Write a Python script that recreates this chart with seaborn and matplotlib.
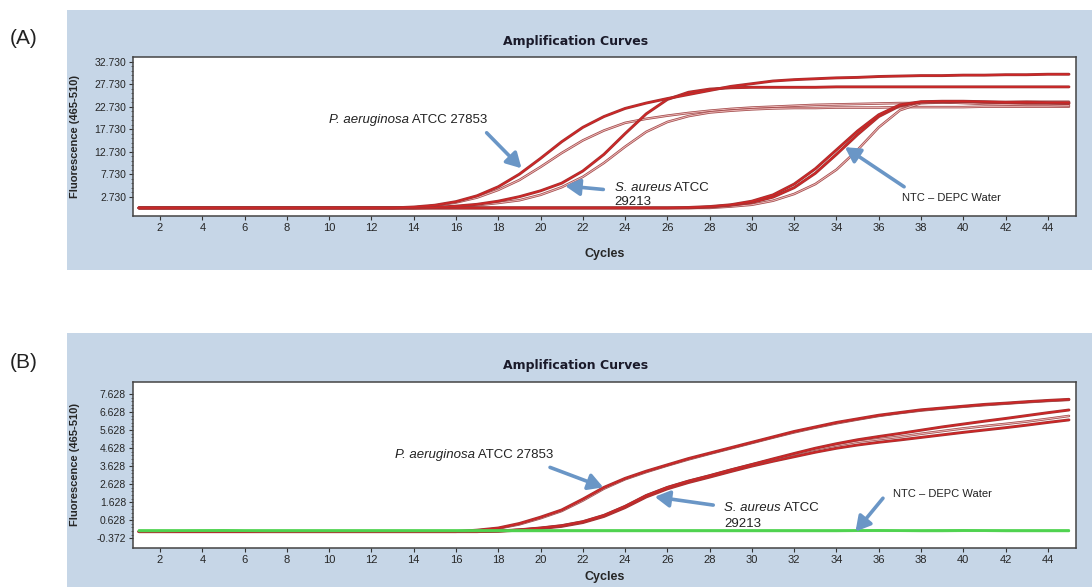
import matplotlib
matplotlib.use('Agg')
import matplotlib.pyplot as plt
import matplotlib.patheffects as pe
from matplotlib.patches import Rectangle
import seaborn as sns

# ---- data (fluorescence per cycle) ----
cycles = list(range(1, 46))

# panel A
a_pa_1 = [0.3, 0.3, 0.3, 0.3, 0.3, 0.3, 0.3, 0.3, 0.3, 0.3, 0.3, 0.3, 0.3,
          0.5, 0.9, 1.7, 3.0, 5.0, 7.8, 11.3, 15.0, 18.2, 20.6, 22.4, 23.6, 24.6,
          25.5, 26.4, 27.3, 27.9, 28.5, 28.8, 29.0, 29.2, 29.3, 29.5, 29.6, 29.7,
          29.7, 29.8, 29.8, 29.9, 29.9, 30.0, 30.0]
a_pa_2 = [0.3, 0.3, 0.3, 0.3, 0.3, 0.3, 0.3, 0.3, 0.3, 0.3, 0.3, 0.3, 0.3,
          0.4, 0.8, 1.5, 2.6, 4.3, 6.5, 9.4, 12.5, 15.3, 17.5, 19.2, 20.1, 20.8,
          21.4, 21.9, 22.3, 22.6, 22.8, 23.0, 23.2, 23.3, 23.4, 23.5, 23.6, 23.6,
          23.7, 23.7, 23.8, 23.8, 23.9, 23.9, 23.9]
a_sa_1 = [0.3, 0.3, 0.3, 0.3, 0.3, 0.3, 0.3, 0.3, 0.3, 0.3, 0.3, 0.3, 0.3, 0.3,
          0.4, 0.7, 1.1, 1.8, 2.8, 4.1, 5.8, 8.5, 12.2, 16.8, 21.2, 24.4, 26.0,
          26.7, 27.0, 27.1, 27.1, 27.1, 27.1, 27.2, 27.2, 27.2, 27.2, 27.2, 27.2,
          27.2, 27.2, 27.2, 27.2, 27.2, 27.2]
a_sa_2 = [0.3, 0.3, 0.3, 0.3, 0.3, 0.3, 0.3, 0.3, 0.3, 0.3, 0.3, 0.3, 0.3, 0.3,
          0.4, 0.6, 0.9, 1.4, 2.0, 3.2, 4.9, 7.2, 10.3, 13.9, 17.2, 19.4, 20.7,
          21.5, 21.9, 22.2, 22.4, 22.5, 22.5, 22.6, 22.6, 22.6, 22.7, 22.7, 22.7,
          22.7, 22.8, 22.8, 22.8, 22.8, 22.8]
a_ntc_1 = [0.3, 0.3, 0.3, 0.3, 0.3, 0.3, 0.3, 0.3, 0.3, 0.3, 0.3, 0.3, 0.3,
           0.3, 0.3, 0.3, 0.3, 0.3, 0.3, 0.3, 0.3, 0.3, 0.3, 0.3, 0.3, 0.3,
           0.4, 0.6, 1.0, 1.8, 3.2, 5.6, 9.0, 13.2, 17.4, 21.0, 23.2, 23.9, 24.0,
           24.0, 23.9, 23.8, 23.8, 23.7, 23.7]
a_ntc_2 = [0.3, 0.3, 0.3, 0.3, 0.3, 0.3, 0.3, 0.3, 0.3, 0.3, 0.3, 0.3, 0.3,
           0.3, 0.3, 0.3, 0.3, 0.3, 0.3, 0.3, 0.3, 0.3, 0.3, 0.3, 0.3, 0.3, 0.3,
           0.5, 0.9, 1.5, 2.7, 4.8, 8.0, 12.2, 16.6, 20.6, 23.0, 23.8, 23.9,
           23.9, 23.8, 23.7, 23.6, 23.6, 23.5]
a_ntc_3 = [0.3, 0.3, 0.3, 0.3, 0.3, 0.3, 0.3, 0.3, 0.3, 0.3, 0.3, 0.3, 0.3,
           0.3, 0.3, 0.3, 0.3, 0.3, 0.3, 0.3, 0.3, 0.3, 0.3, 0.3, 0.3, 0.3, 0.3, 0.3,
           0.6, 1.0, 1.9, 3.4, 5.6, 8.8, 13.2, 18.2, 22.0, 23.6, 23.8, 23.6,
           23.4, 23.3, 23.2, 23.2, 23.1]

# panel B
b_pa_1 = [0.0, 0.0, 0.0, 0.0, 0.0, 0.0, 0.0, 0.0, 0.0, 0.0, 0.0, 0.0, 0.0, 0.0, 0.0, 0.0,
          0.08, 0.2, 0.45, 0.8, 1.2, 1.8, 2.45, 2.95, 3.35, 3.7, 4.05, 4.35, 4.65,
          4.95, 5.25, 5.55, 5.8, 6.05, 6.25, 6.45, 6.6, 6.75, 6.85, 6.95, 7.05,
          7.12, 7.2, 7.27, 7.33]
b_pa_2 = [0.0, 0.0, 0.0, 0.0, 0.0, 0.0, 0.0, 0.0, 0.0, 0.0, 0.0, 0.0, 0.0, 0.0, 0.0, 0.0,
          0.06, 0.17, 0.4, 0.74, 1.14, 1.72, 2.38, 2.9, 3.3, 3.66, 4.0, 4.31, 4.61,
          4.91, 5.21, 5.5, 5.76, 6.0, 6.21, 6.41, 6.57, 6.71, 6.82, 6.92, 7.01,
          7.09, 7.17, 7.24, 7.3]
b_sa_1 = [0.0, 0.0, 0.0, 0.0, 0.0, 0.0, 0.0, 0.0, 0.0, 0.0, 0.0, 0.0, 0.0, 0.0, 0.0, 0.0, 0.0,
          0.03, 0.1, 0.2, 0.33, 0.55, 0.9, 1.4, 2.0, 2.45, 2.8, 3.1, 3.42, 3.72,
          4.03, 4.33, 4.62, 4.87, 5.09, 5.27, 5.44, 5.62, 5.8, 5.96, 6.12, 6.27,
          6.43, 6.59, 6.74]
b_sa_2 = [0.0, 0.0, 0.0, 0.0, 0.0, 0.0, 0.0, 0.0, 0.0, 0.0, 0.0, 0.0, 0.0, 0.0, 0.0, 0.0, 0.0,
          0.03, 0.1, 0.2, 0.33, 0.55, 0.9, 1.4, 2.0, 2.45, 2.8, 3.1, 3.42, 3.72,
          4.0, 4.28, 4.55, 4.78, 4.98, 5.12, 5.26, 5.42, 5.57, 5.72, 5.85, 5.97,
          6.1, 6.25, 6.41]
b_sa_3 = [0.0, 0.0, 0.0, 0.0, 0.0, 0.0, 0.0, 0.0, 0.0, 0.0, 0.0, 0.0, 0.0, 0.0, 0.0, 0.0, 0.0,
          0.02, 0.08, 0.17, 0.29, 0.5, 0.84, 1.33, 1.92, 2.37, 2.72, 3.02, 3.33,
          3.63, 3.9, 4.15, 4.4, 4.62, 4.8, 4.95, 5.08, 5.22, 5.36, 5.5, 5.63,
          5.76, 5.9, 6.05, 6.19]
b_ntc_1 = [0.05, 0.05, 0.05, 0.06, 0.06, 0.05, 0.05, 0.05, 0.05, 0.05, 0.05, 0.05,
           0.05, 0.05, 0.05, 0.05, 0.05, 0.05, 0.05, 0.05, 0.05, 0.05, 0.05, 0.05,
           0.05, 0.05, 0.05, 0.05, 0.05, 0.05, 0.05, 0.05, 0.05, 0.05, 0.06, 0.06,
           0.05, 0.05, 0.06, 0.06, 0.06, 0.05, 0.05, 0.05, 0.05]
b_ntc_2 = [0.02, 0.02, 0.03, 0.03, 0.03, 0.03, 0.02, 0.02, 0.02, 0.02, 0.02, 0.02,
           0.02, 0.02, 0.02, 0.02, 0.02, 0.02, 0.02, 0.02, 0.02, 0.02, 0.02, 0.02,
           0.02, 0.02, 0.02, 0.02, 0.02, 0.02, 0.02, 0.02, 0.02, 0.02, 0.03, 0.03,
           0.03, 0.02, 0.02, 0.03, 0.03, 0.02, 0.02, 0.02, 0.02]
b_ntc_3 = [0.08, 0.08, 0.08, 0.08, 0.09, 0.08, 0.08, 0.08, 0.08, 0.08, 0.08, 0.08,
           0.08, 0.08, 0.08, 0.08, 0.08, 0.08, 0.08, 0.08, 0.08, 0.08, 0.08, 0.08,
           0.08, 0.08, 0.08, 0.08, 0.08, 0.08, 0.08, 0.08, 0.08, 0.08, 0.08, 0.09,
           0.08, 0.08, 0.08, 0.09, 0.08, 0.08, 0.08, 0.08, 0.08]

a_yticks = [2.730, 7.730, 12.730, 17.730, 22.730, 27.730, 32.730]
b_yticks = [-0.372, 0.628, 1.628, 2.628, 3.628, 4.628, 5.628, 6.628, 7.628]
xticks = list(range(2, 45, 2))

BG = '#c6d6e7'
ARROW = '#6a96c6'
TXT = '#222222'
NARROW = ['Liberation Sans Narrow', 'Liberation Sans', 'DejaVu Sans']

sns.set_style('white')
plt.rcParams['font.family'] = ['Liberation Sans', 'DejaVu Sans']

fig = plt.figure(figsize=(10.92, 5.88), dpi=100)

# blue panel backgrounds (drawn below the axes)
fig.patches.append(Rectangle((0.0614, 0.5408), 0.94, 0.4422, transform=fig.transFigure,
                             facecolor=BG, edgecolor='none', zorder=-5))
fig.patches.append(Rectangle((0.0614, 0.002), 0.94, 0.432, transform=fig.transFigure,
                             facecolor=BG, edgecolor='none', zorder=-5))

ax_a = fig.add_axes([0.1218, 0.6327, 0.8635, 0.2704])
ax_b = fig.add_axes([0.1218, 0.0680, 0.8635, 0.2829])


def dark_curve(ax, y):
    sns.lineplot(x=cycles, y=y, ax=ax, color='#d02626', lw=1.1,
                 path_effects=[pe.Stroke(linewidth=2.1, foreground='#a13434'), pe.Normal()])


def light_curve(ax, y):
    sns.lineplot(x=cycles, y=y, ax=ax, color='#efb9b9', lw=0.7,
                 path_effects=[pe.Stroke(linewidth=1.8, foreground='#a24c4c'), pe.Normal()])


def green_curve(ax, y, lw):
    sns.lineplot(x=cycles, y=y, ax=ax, color='#4fd34f', lw=lw, alpha=0.9)


def style_axes(ax, yticks, ylim, xlabel_y):
    ax.set_xlim(0.72, 45.33)
    ax.set_ylim(*ylim)
    ax.set_facecolor('white')
    ax.set_xticks(xticks)
    ax.set_xticklabels([str(t) for t in xticks], family=NARROW, fontsize=8)
    ax.set_yticks(yticks)
    ax.set_yticklabels(['%.3f' % t for t in yticks], family=NARROW, fontsize=7.5)
    step = yticks[1] - yticks[0]
    ax.set_yticks([yticks[0] + step * i / 5 for i in range(5 * (len(yticks) - 1) + 1)], minor=True)
    ax.tick_params(axis='both', which='major', direction='out', length=3, width=0.8,
                   color='#333333', pad=2, bottom=True, left=True)
    ax.tick_params(axis='y', which='minor', direction='out', length=1.5, width=0.6,
                   color='#555555', left=True)
    for sp in ax.spines.values():
        sp.set_color('#444444')
        sp.set_linewidth(1.1)
    ax.set_xlabel('Cycles', family=NARROW, fontweight='bold', fontsize=9)
    ax.set_ylabel('Fluorescence (465-510)', family=NARROW, fontweight='bold', fontsize=8)
    ax.xaxis.set_label_coords(0.5, xlabel_y)
    ax.yaxis.set_label_coords(-0.056, 0.5)


def species_label(ax, x, y, italic, rest, size=9.5):
    first = ax.text(x, y, italic, fontsize=size, style='italic', va='bottom', color=TXT)
    ax.annotate(rest, xy=(1, 0), xycoords=first, va='bottom', ha='left',
                fontsize=size, color=TXT)


def arrow(ax, start, end):
    ax.annotate('', xy=end, xytext=start,
                arrowprops=dict(arrowstyle='-|>,head_width=0.45,head_length=0.8',
                                color=ARROW, lw=2.6, shrinkA=0, shrinkB=0,
                                mutation_scale=11))


# ---- panel A ----
light_curve(ax_a, a_pa_2)
light_curve(ax_a, a_sa_2)
light_curve(ax_a, a_ntc_3)
dark_curve(ax_a, a_ntc_2)
dark_curve(ax_a, a_ntc_1)
dark_curve(ax_a, a_sa_1)
dark_curve(ax_a, a_pa_1)
style_axes(ax_a, a_yticks, (-1.49, 33.84), -0.20)

species_label(ax_a, 10.0, 18.6, 'P. aeruginosa', ' ATCC 27853')
arrow(ax_a, (17.45, 17.0), (19.1, 9.1))
species_label(ax_a, 23.5, 3.5, 'S. aureus', ' ATCC')
ax_a.text(23.5, 1.7, '29213', fontsize=9.5, va='center', color=TXT)
arrow(ax_a, (22.97, 4.4), (21.16, 5.2))
ax_a.text(37.1, 2.5, 'NTC \u2013 DEPC Water', fontsize=8, va='center', color=TXT)
arrow(ax_a, (37.2, 5.0), (34.4, 13.8))

# ---- panel B ----
dark_curve(ax_b, b_sa_3)
light_curve(ax_b, b_sa_2)
dark_curve(ax_b, b_sa_1)
light_curve(ax_b, b_pa_2)
dark_curve(ax_b, b_pa_1)
green_curve(ax_b, b_ntc_2, 1.4)
green_curve(ax_b, b_ntc_3, 1.4)
green_curve(ax_b, b_ntc_1, 1.8)
style_axes(ax_b, b_yticks, (-0.91, 8.31), -0.14)

species_label(ax_b, 13.1, 3.93, 'P. aeruginosa', ' ATCC 27853')
arrow(ax_b, (20.45, 3.56), (22.97, 2.45))
species_label(ax_b, 28.7, 1.0, 'S. aureus', ' ATCC')
ax_b.text(28.7, 0.42, '29213', fontsize=9.5, va='center', color=TXT)
arrow(ax_b, (28.17, 1.47), (25.4, 1.93))
ax_b.text(36.66, 2.08, 'NTC \u2013 DEPC Water', fontsize=8, va='center', color=TXT)
arrow(ax_b, (36.2, 1.85), (34.9, 0.0))

# titles and panel letters
for ty in (0.930, 0.379):
    fig.text(0.5275, ty, 'Amplification Curves', ha='center', va='center',
             family='DejaVu Sans', fontweight='bold', fontsize=9, color='#1a1a2a')
fig.text(0.009, 0.935, '(A)', fontsize=15, va='center', color=TXT)
fig.text(0.009, 0.384, '(B)', fontsize=15, va='center', color=TXT)

fig.savefig('out.png', dpi=100)
